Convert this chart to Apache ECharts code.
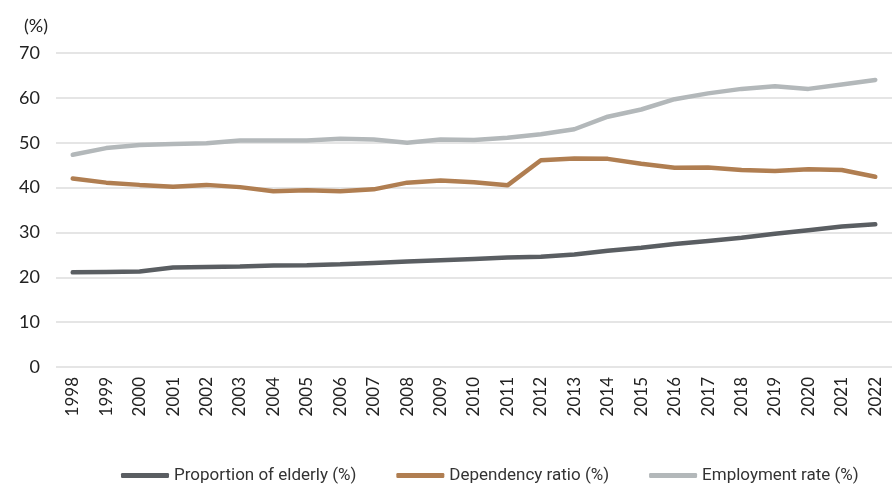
<!DOCTYPE html>
<html><head><meta charset="utf-8">
<script src="https://cdn.jsdelivr.net/npm/echarts@6/dist/echarts.min.js"></script>
<style>html,body{margin:0;padding:0;background:#fff}#c{width:892px;height:487px}</style>
</head><body><div id="c"></div>
<script>
const years = ['1998','1999','2000','2001','2002','2003','2004','2005','2006','2007','2008','2009','2010','2011','2012','2013','2014','2015','2016','2017','2018','2019','2020','2021','2022'];
const elderly = [21.1,21.2,21.3,22.2,22.3,22.4,22.6,22.7,22.9,23.2,23.5,23.8,24.1,24.4,24.6,25.1,25.9,26.6,27.4,28.1,28.8,29.7,30.5,31.3,31.8];
const dependency = [42.0,41.1,40.6,40.2,40.6,40.1,39.2,39.4,39.2,39.6,41.1,41.6,41.2,40.5,46.1,46.5,46.4,45.3,44.4,44.5,43.9,43.7,44.1,43.9,42.4];
const employment = [47.3,48.8,49.5,49.7,49.9,50.5,50.5,50.5,50.9,50.7,50.0,50.7,50.6,51.1,51.9,53.0,55.8,57.4,59.7,61.0,62.0,62.6,62.0,63.0,64.0];
const seriesNames = ['Proportion of elderly (%)','Dependency ratio (%)','Employment rate (%)'];
const yTicks = {min:0,max:70,interval:10};

const chart = echarts.init(document.getElementById('c'));
const font = 'Lato, "Open Sans", sans-serif';
chart.setOption({
  animation:false,
  color:['#5a5e62','#b07e51','#b3b8ba'],
  grid:{left:56,right:-8,top:53,bottom:120},
  legend:{top:462,left:116,itemWidth:48,itemHeight:5,itemGap:40,icon:'roundRect',
    textStyle:{fontFamily:'Roboto, sans-serif',fontSize:17,color:'#333'},
    data:seriesNames},
  xAxis:{type:'category',data:years,boundaryGap:true,
    axisLine:{show:false},axisTick:{show:false},
    axisLabel:{rotate:90,fontFamily:font,fontSize:17,color:'#222',margin:10,interval:0}},
  yAxis:{type:'value',min:yTicks.min,max:yTicks.max,interval:yTicks.interval,
    name:'(%)',nameLocation:'end',nameGap:18,nameTextStyle:{fontFamily:font,fontSize:18,color:'#222',align:'right',padding:[0,8,0,0]},
    axisLabel:{fontFamily:font,fontSize:18,color:'#222',margin:16},
    splitLine:{lineStyle:{color:'#dddddd',width:1.5}}},
  series:[
    {name:seriesNames[0],type:'line',data:elderly,symbol:'none',lineStyle:{width:4.5,cap:'round'}},
    {name:seriesNames[1],type:'line',data:dependency,symbol:'none',lineStyle:{width:4.5,cap:'round'}},
    {name:seriesNames[2],type:'line',data:employment,symbol:'none',lineStyle:{width:4.5,cap:'round'}}
  ]
});
</script></body></html>
